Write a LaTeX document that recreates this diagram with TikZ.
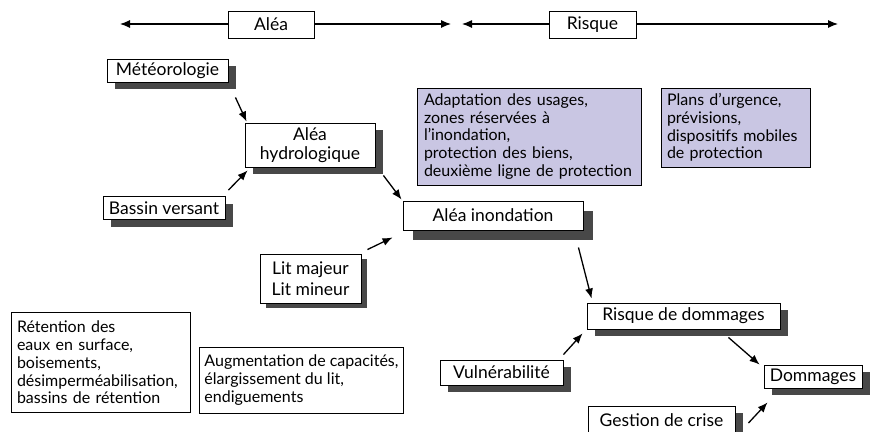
\documentclass[tikz,border=0pt]{standalone}
\usepackage{fontspec}
\setmainfont{Lato}
\usetikzlibrary{arrows.meta,shadows,calc}
\definecolor{lav}{RGB}{201,198,227}
\definecolor{shgray}{RGB}{72,72,72}
\begin{document}
\begin{tikzpicture}[x=1pt,y=-1pt,
  bigtxt/.style={font=\fontsize{17.5}{18.5}\selectfont},
  smalltxt/.style={font=\fontsize{16}{17.8}\selectfont},
  box/.style={draw, line width=0.9pt, fill=white, inner sep=0pt, bigtxt},
  shbox/.style={box, drop shadow={shadow xshift=8pt, shadow yshift=-7pt, fill=shgray, opacity=1}},
  lbox/.style={box, smalltxt, align=left, inner ysep=0pt,
    execute at begin node={\hyphenpenalty=10000\exhyphenpenalty=10000}},
  arr/.style={line width=1.3pt, -{Latex[length=10pt,width=8pt]}},
  darr/.style={line width=1.1pt, {Latex[length=10pt,width=8pt]}-{Latex[length=10pt,width=8pt]}}
]
\useasboundingbox (0,0) rectangle (882,431);

% top scales
\coordinate (aL) at (120,24);
\coordinate (aR) at (451,24);
\coordinate (rL) at (462,24);
\coordinate (rR) at (838,24);
\draw[darr] (aL) -- (aR);
\draw[darr] (rL) -- (rR);
\node[box, minimum width=86pt, minimum height=27pt] (alea) at (271,24.5) {Aléa};
\node[box, minimum width=87pt, minimum height=27pt] (risque) at (592.5,24.5) {Risque};

% shadowed boxes
\node[shbox, minimum width=121pt, minimum height=23pt] (met) at (167.5,70.5) {Météorologie};
\node[shbox, align=center, minimum width=130pt, minimum height=44pt] (hyd) at (310,145) {Aléa\\hydrologique};
\node[shbox, minimum width=122pt, minimum height=23pt] (bas) at (164,208) {Bassin versant};
\node[box, minimum width=180pt, minimum height=29pt,
  drop shadow={shadow xshift=10pt, shadow yshift=-10pt, fill=shgray, opacity=1}] (ino) at (493,215.5) {Aléa inondation};
\node[box, align=center, minimum width=101pt, minimum height=49pt,
  font=\fontsize{17.5}{21.5}\selectfont,
  drop shadow={shadow xshift=6pt, shadow yshift=-5pt, fill=shgray, opacity=1}] (lit) at (310.5,278.5) {Lit majeur\\Lit mineur};
\node[shbox, minimum width=193pt, minimum height=26pt] (ris) at (683.5,316) {Risque de dommages};
\node[shbox, minimum width=123pt, minimum height=25pt] (vul) at (501.5,372.5) {Vulnérabilité};
\node[shbox, minimum width=98pt, minimum height=23pt] (dom) at (813,376.5) {Dommages};
\node[shbox, minimum width=147pt, minimum height=28pt] (ges) at (661.5,420) {Gestion de crise};

% purple boxes
\node[lbox, fill=lav, text width=210pt, inner xsep=7pt, minimum height=97pt] (ada) at (529,136.5)
  {Adaptation des usages,\\zones réservées à\\l’inondation,\\protection des biens,\\deuxième ligne de protection};
\node[lbox, fill=lav, text width=137pt, inner xsep=6pt, minimum height=79pt] (pla) at (735.5,127.5)
  {Plans d’urgence,\\prévisions,\\dispositifs mobiles\\de protection};

% plain white boxes
\node[lbox, text width=167pt, inner xsep=6pt, minimum height=100pt] (ret) at (100.5,362.5)
  {Rétention des\\eaux en surface,\\boisements,\\désimperméabilisation,\\bassins de rétention};
\node[lbox, anchor=west, inner xsep=5pt, minimum height=66pt] (aug) at (199,380)
  {Augmentation de capacités,\\élargissement du lit,\\endiguements};

% connectors
\draw[arr] ($(met.south east)+(7,15)$) -- ($(hyd.north west)+(2,-1)$);
\draw[arr] ($(bas.north east)+(3,-6)$) -- ($(hyd.south west)+(3,3)$);
\draw[arr] ($(hyd.south east)+(8,8)$) -- ($(ino.north west)+(-1,-1)$);
\draw[arr] ($(lit.north east)+(6,-4)$) -- ($(ino.south west)+(-10,7)$);
\draw[arr] ($(ino.south east)+(-5,17)$) -- ($(ris.north west)+(5,-4)$);
\draw[arr] ($(vul.north east)+(0,-5)$) -- ($(ris.south west)+(-4,4)$);
\draw[arr] ($(ris.south east)+(-52,8)$) -- ($(dom.north west)+(-4,0)$);
\draw[arr] ($(ges.east)+(13,3)$) -- ($(dom.south west)+(4,14)$);
\end{tikzpicture}
\end{document}
